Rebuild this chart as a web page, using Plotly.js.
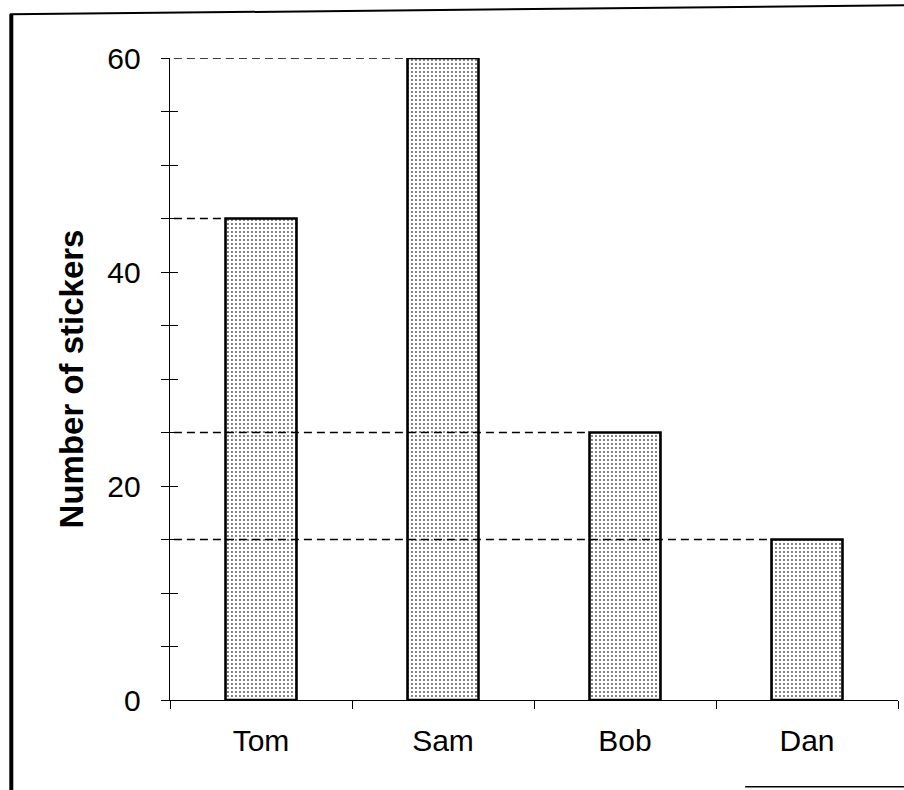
<!DOCTYPE html>
<html>
<head>
<meta charset="utf-8">
<script src="https://cdn.plot.ly/plotly-3.0.1.min.js"></script>
<style>html,body{margin:0;padding:0;background:#fff;}#chart{width:904px;height:790px;}</style>
</head>
<body>
<div id="chart"></div>
<script>
const names = ["Tom", "Sam", "Bob", "Dan"];
const stickers = [45, 60, 25, 15];
const yTickVals = [0, 5, 10, 15, 20, 25, 30, 35, 40, 45, 50, 55, 60];
const yTickText = ["0", "", "", "", "20", "", "", "", "40", "", "", "", "60"];
const yTitle = "Number of stickers";

const barFrac = 0.39;
const half = barFrac / 2;

const trace = {
  type: "bar",
  x: names,
  y: stickers,
  width: barFrac,
  marker: {
    color: "#ffffff",
    line: {color: "#000", width: 2.6},
    pattern: {shape: ".", size: 4, solidity: 0.18, fgcolor: "#555", bgcolor: "#ffffff"}
  },
  hoverinfo: "skip",
  showlegend: false
};

const ghost = {
  type: "scatter", x: [names[0]], y: [0], xaxis: "x", yaxis: "y2",
  mode: "markers", marker: {opacity: 0, size: 1}, hoverinfo: "skip", showlegend: false
};

const shapes = stickers.map((v, i) => ({
  type: "line", xref: "x", yref: "y", layer: "above",
  x0: -0.55, x1: i - half, y0: v, y1: v,
  line: {color: "#000", width: 1.7, dash: "8px,5px"}
}));

shapes.push(
  {type: "line", xref: "paper", yref: "paper", x0: -0.218, x1: -0.218, y0: 1.068, y1: -0.14,
   line: {color: "#000", width: 4}},
  {type: "line", xref: "paper", yref: "paper", x0: -0.22, x1: 1.01, y0: 1.068, y1: 1.082,
   line: {color: "#000", width: 2}},
  {type: "line", xref: "paper", yref: "paper", x0: 0.79, x1: 1.01, y0: -0.135, y1: -0.135,
   line: {color: "#000", width: 1.5}}
);

const layout = {
  width: 904, height: 790,
  margin: {l: 170, r: 6, t: 58, b: 90},
  paper_bgcolor: "#fff", plot_bgcolor: "#fff",
  font: {family: "Liberation Sans, Arial, sans-serif", color: "#000"},
  bargap: 0.61,
  xaxis: {
    type: "category",
    range: [-0.5, 3.5],
    showline: true, linecolor: "#000", linewidth: 1.3,
    ticks: "outside", tickson: "boundaries", ticklen: 8, tickcolor: "#000", tickwidth: 1,
    ticklabelstandoff: 14,
    tickfont: {size: 30, color: "#000"},
    showgrid: false, zeroline: false, fixedrange: true
  },
  yaxis: {
    range: [0, 60],
    tickmode: "array", tickvals: yTickVals, ticktext: yTickText,
    ticks: "outside", ticklen: 8, tickcolor: "#000", tickwidth: 1,
    showline: true, linecolor: "#000", linewidth: 1.3,
    tickfont: {size: 30, color: "#000"},
    ticklabelstandoff: 14,
    title: {text: yTitle, font: {size: 33, color: "#000", family: "Liberation Sans, Arial, sans-serif", weight: "bold"}, standoff: 13},
    showgrid: false, zeroline: false, fixedrange: true
  },
  yaxis2: {
    overlaying: "y", anchor: "x", side: "left", range: [0, 60],
    tickmode: "array", tickvals: yTickVals, showticklabels: false,
    ticks: "inside", ticklen: 8, tickcolor: "#000", tickwidth: 1,
    showline: false, showgrid: false, zeroline: false, fixedrange: true
  },
  shapes: shapes
};

Plotly.newPlot("chart", [trace, ghost], layout, {staticPlot: true, displayModeBar: false});
</script>
</body>
</html>
